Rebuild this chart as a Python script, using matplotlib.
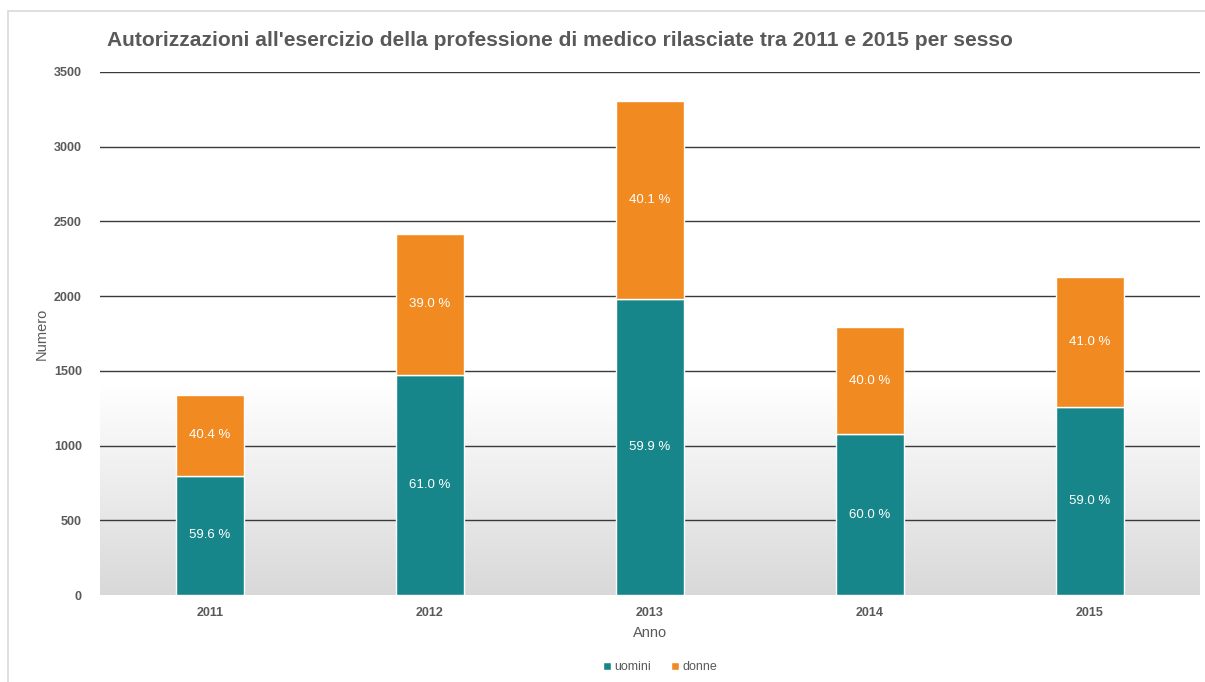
import matplotlib
matplotlib.use("Agg")
import matplotlib.pyplot as plt
import numpy as np
from matplotlib.patches import Rectangle

plt.rcParams['font.family'] = ['Liberation Sans', 'DejaVu Sans']

anni = ["2011", "2012", "2013", "2014", "2015"]
uomini = [797, 1473, 1980, 1077, 1257]
donne = [543, 945, 1325, 716, 870]
pct_uomini = ["59.6 %", "61.0 %", "59.9 %", "60.0 %", "59.0 %"]
pct_donne = ["40.4 %", "39.0 %", "40.1 %", "40.0 %", "41.0 %"]

C_U = "#17868a"
C_D = "#f18b21"
GRAY = "#595959"

W, H = 1205, 682
fig = plt.figure(figsize=(W / 100, H / 100), dpi=100)
fig.patch.set_facecolor("white")
fig.patches.append(Rectangle((8 / W, -0.1), 1.2, 1.1 - 11 / H, transform=fig.transFigure,
                             fill=False, edgecolor="#d9d9d9", linewidth=1.2))

ax = fig.add_axes([100 / W, 1 - 595 / H, 1100 / W, 523 / H])
x = np.arange(len(anni))

# gradient background
t = np.linspace(0, 1, 256)  # 0 bottom -> 1 top
frac = np.clip((0.40 - t) / 0.40, 0, 1)
vals = 1.0 - frac * (1 - 0.85)
img = np.dstack([vals, vals, vals]).reshape(256, 1, 3)
ax.imshow(img, extent=[-0.5, 4.5, 0, 3500], origin="lower", aspect="auto", zorder=0)

ax.bar(x, uomini, width=0.31, color=C_U, edgecolor="white", linewidth=1, zorder=3, label="uomini")
ax.bar(x, donne, bottom=uomini, width=0.31, color=C_D, edgecolor="white", linewidth=1, zorder=3, label="donne")

for i in range(len(anni)):
    ax.text(x[i], uomini[i] / 2, pct_uomini[i], ha="center", va="center", color="white", fontsize=9.5, zorder=4)
    ax.text(x[i], uomini[i] + donne[i] / 2, pct_donne[i], ha="center", va="center", color="white", fontsize=9.5, zorder=4)

ax.set_xlim(-0.5, 4.5)
ax.set_ylim(0, 3500)
ax.set_yticks(np.arange(0, 3501, 500))
for yv in np.arange(500, 3501, 500):
    ax.axhline(yv, color="#3a3a3a", linewidth=1, zorder=2)
ax.set_xticks(x)
ax.set_xticklabels(anni)
for s in ax.spines.values():
    s.set_visible(False)
ax.tick_params(length=0, colors=GRAY, labelsize=9)
for lab in ax.get_xticklabels() + ax.get_yticklabels():
    lab.set_fontweight("bold")
ax.tick_params(axis="y", pad=13)
ax.tick_params(axis="x", pad=9)

ax.set_xlabel("Anno", color=GRAY, fontsize=10.5, labelpad=5)
ax.set_ylabel("Numero", color=GRAY, fontsize=10.5, labelpad=4)

fig.text(107 / W, 1 - 40 / H, "Autorizzazioni all'esercizio della professione di medico rilasciate tra 2011 e 2015 per sesso",
         fontsize=15.1, fontweight="bold", color=GRAY, ha="left", va="center")

leg = fig.legend(loc="center", bbox_to_anchor=(660 / W, 1 - 667 / H), ncol=2, frameon=False,
                 fontsize=9, handlelength=0.6, handleheight=0.6, handletextpad=0.3, columnspacing=1.6)
for txt in leg.get_texts():
    txt.set_color(GRAY)

fig.savefig("out.png", dpi=100)
